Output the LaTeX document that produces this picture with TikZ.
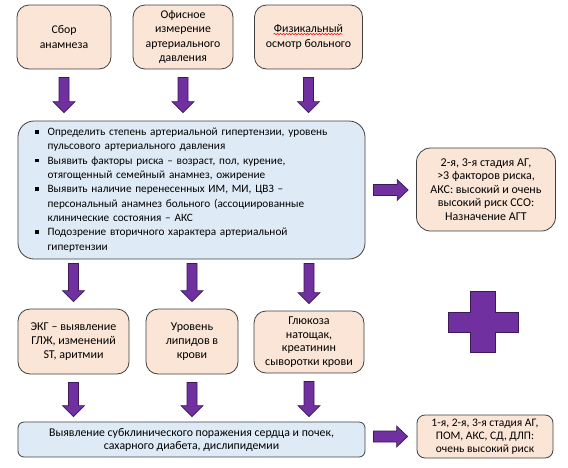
\documentclass[tikz,border=0pt]{standalone}
\usepackage{fontspec}
\setmainfont{Carlito}
\usetikzlibrary{calc,decorations.pathmorphing}
\definecolor{peach}{HTML}{FBE5D6}
\definecolor{pale}{HTML}{DEEBF7}
\definecolor{purp}{HTML}{7030A0}
\definecolor{purpedge}{HTML}{3B1A55}
\definecolor{edge}{HTML}{404040}
\newcommand\sqbul{\rule[1.8pt]{3.6pt}{3.6pt}}
\newcommand\FatDown[2]{%
  \draw[fat] let \p1=#1, \p2=#2 in
    (\x1-5pt,\y1) -- (\x1+5pt,\y1) -- (\x1+5pt,\y2+11pt) -- (\x1+11pt,\y2+11pt)
    -- (\x1,\y2) -- (\x1-11pt,\y2+11pt) -- (\x1-5pt,\y2+11pt) -- cycle;}
\newcommand\FatRight[2]{%
  \draw[fat] let \p1=#1, \p2=#2 in
    (\x1,\y1-5.5pt) -- (\x1,\y1+5.5pt) -- (\x2-11pt,\y1+5.5pt) -- (\x2-11pt,\y1+10.5pt)
    -- (\x2,\y1) -- (\x2-11pt,\y1-10.5pt) -- (\x2-11pt,\y1-5.5pt) -- cycle;}
\begin{document}
\begin{tikzpicture}[x=1pt,y=-1pt,
  font=\fontsize{11.25}{14.3}\selectfont,
  box/.style={draw=edge, line width=0.8pt, align=center, inner sep=2pt},
  pbox/.style={box, fill=peach, rounded corners=12pt},
  bbox/.style={box, fill=pale},
  fat/.style={fill=purp, draw=purpedge, line width=0.7pt}]
\useasboundingbox (0,0) rectangle (568,467);

\node[pbox, minimum width=94pt, minimum height=64pt, font=\fontsize{11.8}{14.5}\selectfont] (t1) at (64,37) {Сбор\\анамнеза};
\node[pbox, minimum width=100pt, minimum height=64pt, font=\fontsize{11.8}{14.3}\selectfont] (t2) at (183,37) {Офисное\\измерение\\артериального\\давления};
\node[pbox, minimum width=108pt, minimum height=64pt, font=\fontsize{11.8}{15.5}\selectfont] (t3) at (308.5,37) {Физикальный\\осмотр больного};

\node[bbox, rounded corners=16pt, minimum width=347pt, minimum height=138pt,
      text width=313pt, align=left, inner xsep=0pt] (main) at (191.5,190) {%
\begin{tabular}{@{}l@{\hspace{9pt}}l@{}}
\sqbul & Определить степень артериальной гипертензии, уровень\\
       & пульсового артериального давления\\
\sqbul & Выявить факторы риска -- возраст, пол, курение,\\
       & отягощенный семейный анамнез, ожирение\\
\sqbul & Выявить наличие перенесенных ИМ, МИ, ЦВЗ --\\
       & персональный анамнез больного (ассоциированные\\
       & клинические состояния -- АКС\\
\sqbul & Подозрение вторичного характера артериальной\\
       & гипертензии
\end{tabular}};

\node[pbox, rounded corners=14pt, minimum width=139pt, minimum height=83pt,
      font=\fontsize{12}{13.4}\selectfont] (r1) at (486,189.5)
  {2-я, 3-я стадия АГ,\\>3 факторов риска,\\АКС: высокий и очень\\высокий риск ССО:\\Назначение АГТ};

\node[pbox, minimum width=111pt, minimum height=65pt, font=\fontsize{12}{14}\selectfont] (m1) at (73.5,341.5)
  {ЭКГ -- выявление\\ГЛЖ, изменений\\ST, аритмии};
\node[pbox, minimum width=92pt, minimum height=65pt, font=\fontsize{12}{14}\selectfont] (m2) at (192,341.5)
  {Уровень\\липидов в\\крови};
\node[pbox, minimum width=110pt, minimum height=62pt, font=\fontsize{12}{13.7}\selectfont] (m3) at (309,342)
  {Глюкоза\\натощак,\\креатинин\\сыворотки крови};

\node[bbox, rounded corners=6pt, minimum width=347pt, minimum height=35pt,
      font=\fontsize{11.8}{13}\selectfont] (bot) at (191.5,439.5)
  {Выявление субклинического поражения сердца и почек,\\сахарного диабета, дислипидемии};
\node[pbox, rounded corners=8pt, minimum width=136pt, minimum height=43pt,
      font=\fontsize{11.5}{13}\selectfont] (r2) at (485,436.5)
  {1-я, 2-я, 3-я стадия АГ,\\ПОМ, АКС, СД, ДЛП:\\очень высокий риск};

% red spell-check underline
\draw[red, line width=0.5pt, decorate, decoration={snake, amplitude=0.7pt, segment length=3pt}]
  ($(t3.center)+(-35pt,3pt)$) -- ($(t3.center)+(34pt,3pt)$);

% arrows top -> main
\foreach \nm in {t1,t2,t3}{
  \FatDown{($(\nm.south)+(0,-8pt)$)}{($(\nm.south |- main.north)+(0,8pt)$)}
}
% main -> middle
\foreach \nm in {m1,m2,m3}{
  \FatDown{($(\nm.north |- main.south)+(0,-4pt)$)}{($(\nm.north)+(0,7pt)$)}
}
% middle -> bottom
\foreach \nm in {m1,m2,m3}{
  \FatDown{($(\nm.south)+(0,-8pt)$)}{($(\nm.south |- bot.north)+(0,5pt)$)}
}
\FatRight{($(main.east)+(8pt,0)$)}{($(r1.west)+(-8pt,0)$)}
\FatRight{($(bot.east |- r2.west)+(8pt,0)$)}{($(r2.west)+(-9pt,0)$)}

% plus sign
\draw[fat] (470.5,291) -- (495.5,291) -- (495.5,312) -- (518,312) -- (518,332)
  -- (495.5,332) -- (495.5,352) -- (470.5,352) -- (470.5,332) -- (448,332)
  -- (448,312) -- (470.5,312) -- cycle;
\end{tikzpicture}
\end{document}
